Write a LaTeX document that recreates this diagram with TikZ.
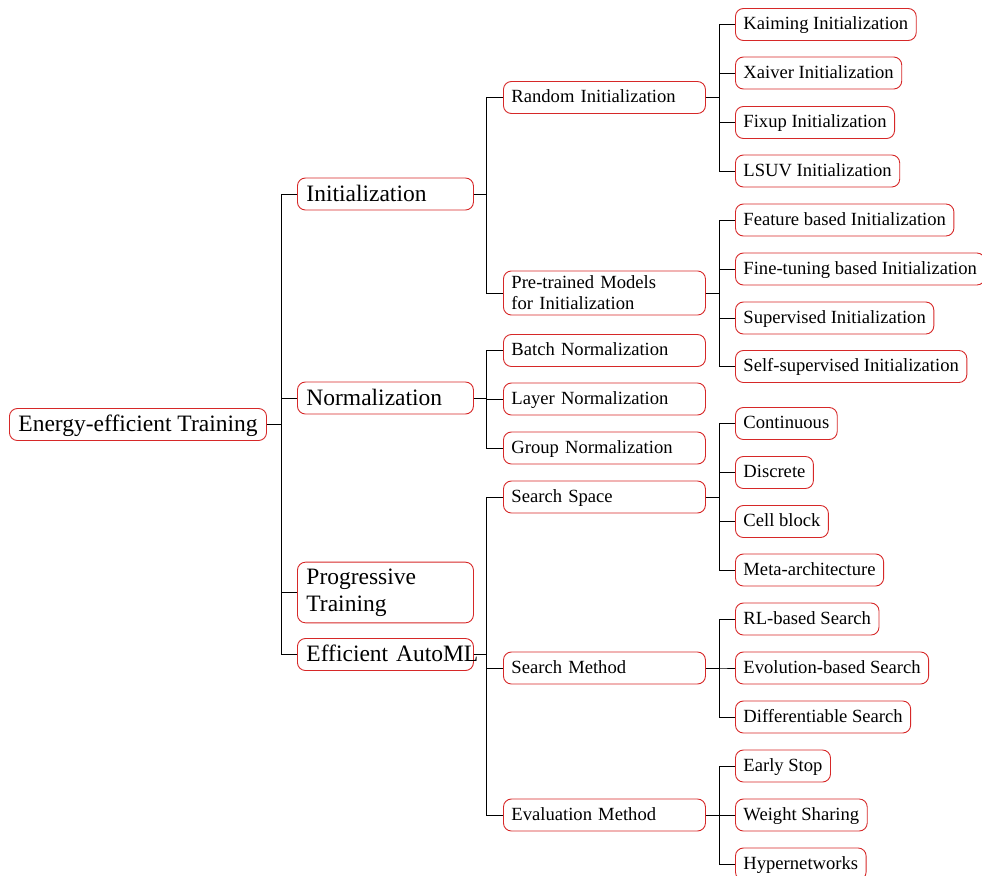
\documentclass[tikz,border=0pt]{standalone}
\usepackage{fontspec}
\setmainfont{Liberation Serif}
\definecolor{boxred}{RGB}{214,40,40}
\begin{document}
\begin{tikzpicture}[x=1pt,y=-1pt,
  box/.style={draw=boxred,line width=0.9pt,rounded corners=8pt,anchor=west,align=left},
  big/.style={box,font=\fontsize{23.5}{27}\selectfont,inner xsep=9pt},
  small/.style={box,font=\fontsize{18.6}{21}\selectfont,inner xsep=8pt},
  bigone/.style={big,text height=16.5pt,text depth=2.5pt,inner ysep=0pt,minimum height=32pt},
  smallone/.style={small,text height=13.5pt,text depth=3.5pt,inner ysep=0pt,minimum height=32pt},
  lvlone/.style={text width=158pt},
  lvltwo/.style={text width=186pt},
  link/.style={line width=0.9pt,black}
]
\useasboundingbox (0,0) rectangle (982,875);

% root
\node[bigone] (root) at (9,424.5) {Energy-efficient Training};

% level 1
\node[bigone,lvlone] (init) at (297,194) {Initialization};
\node[bigone,lvlone] (norm) at (297,398) {Normalization};
\node[big,lvlone,inner ysep=6.5pt] (prog) at (297,592.5) {Progressive\\Training};
\node[bigone,lvlone] (auto) at (297,654.5) {\mbox{Efficient AutoML}};

% level 2
\node[smallone,lvltwo] (rand) at (503,97.5) {Random Initialization};
\node[small,lvltwo,inner ysep=5pt] (pre) at (503,293) {Pre-trained Models\\for Initialization};
\node[smallone,lvltwo] (batch) at (503,350.5) {Batch Normalization};
\node[smallone,lvltwo] (layer) at (503,399) {Layer Normalization};
\node[smallone,lvltwo] (group) at (503,448) {Group Normalization};
\node[smallone,lvltwo] (space) at (503,497) {Search Space};
\node[smallone,lvltwo] (method) at (503,668) {Search Method};
\node[smallone,lvltwo] (eval) at (503,815) {Evaluation Method};

% level 3
\node[smallone] (kai) at (735,24.5) {Kaiming Initialization};
\node[smallone] (xai) at (735,73) {Xaiver Initialization};
\node[smallone] (fix) at (735,122.5) {Fixup Initialization};
\node[smallone] (lsuv) at (735,171) {LSUV Initialization};
\node[smallone] (feat) at (735,220) {Feature based Initialization};
\node[smallone] (fine) at (735,269) {Fine-tuning based Initialization};
\node[smallone] (sup) at (735,318) {Supervised Initialization};
\node[smallone] (self) at (735,366.5) {Self-supervised Initialization};
\node[smallone] (cont) at (735,423.5) {Continuous};
\node[smallone] (disc) at (735,472.5) {Discrete};
\node[smallone] (cell) at (735,521.5) {Cell block};
\node[smallone] (meta) at (735,570) {Meta-architecture};
\node[smallone] (rl) at (735,619) {RL-based Search};
\node[smallone] (evo) at (735,668) {Evolution-based Search};
\node[smallone] (diff) at (735,717) {Differentiable Search};
\node[smallone] (early) at (735,766) {Early Stop};
\node[smallone] (weight) at (735,815) {Weight Sharing};
\node[smallone] (hyper) at (735,864) {Hypernetworks};

% connectors
\foreach \c in {init,norm,prog,auto}
  \draw[link] (root.east) -- ++(14,0) |- (\c.west);
\foreach \c in {rand,pre}
  \draw[link] (init.east) -- ++(13,0) |- (\c.west);
\foreach \c in {batch,layer,group}
  \draw[link] (norm.east) -- ++(13,0) |- (\c.west);
\foreach \c in {space,method,eval}
  \draw[link] (auto.east) -- ++(13,0) |- (\c.west);
\foreach \c in {kai,xai,fix,lsuv}
  \draw[link] (rand.east) -- ++(14,0) |- (\c.west);
\foreach \c in {feat,fine,sup,self}
  \draw[link] (pre.east) -- ++(14,0) |- (\c.west);
\foreach \c in {cont,disc,cell,meta}
  \draw[link] (space.east) -- ++(14,0) |- (\c.west);
\foreach \c in {rl,evo,diff}
  \draw[link] (method.east) -- ++(14,0) |- (\c.west);
\foreach \c in {early,weight,hyper}
  \draw[link] (eval.east) -- ++(14,0) |- (\c.west);
\end{tikzpicture}
\end{document}
